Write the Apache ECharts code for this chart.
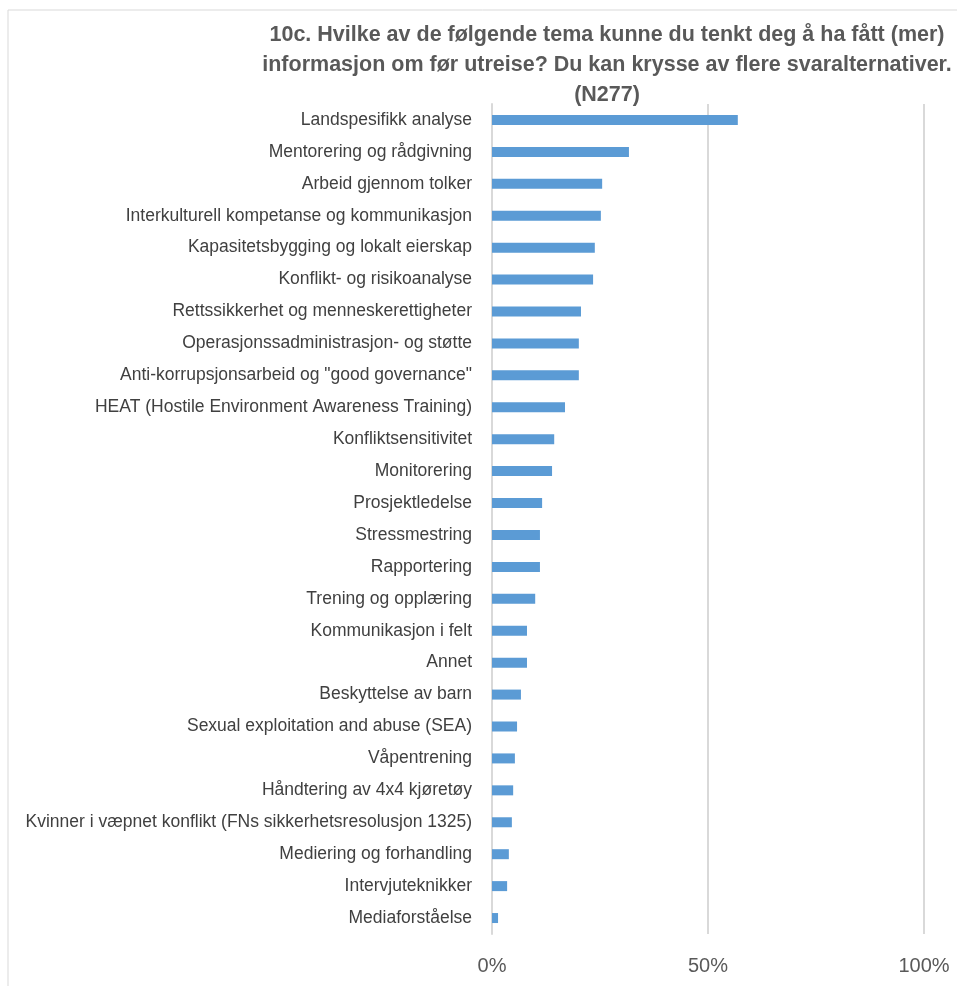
<!DOCTYPE html>
<html>
<head>
<meta charset="utf-8">
<script src="https://cdn.jsdelivr.net/npm/echarts@6/dist/echarts.min.js"></script>
<style>html,body{margin:0;padding:0;background:#fff}#c{width:957px;height:986px}</style>
</head>
<body>
<div id="c"></div>
<script>
const categories = [
  "Landspesifikk analyse",
  "Mentorering og rådgivning",
  "Arbeid gjennom tolker",
  "Interkulturell kompetanse og kommunikasjon",
  "Kapasitetsbygging og lokalt eierskap",
  "Konflikt- og risikoanalyse",
  "Rettssikkerhet og menneskerettigheter",
  "Operasjonssadministrasjon- og støtte",
  "Anti-korrupsjonsarbeid og \"good governance\"",
  "HEAT (Hostile Environment Awareness Training)",
  "Konfliktsensitivitet",
  "Monitorering",
  "Prosjektledelse",
  "Stressmestring",
  "Rapportering",
  "Trening og opplæring",
  "Kommunikasjon i felt",
  "Annet",
  "Beskyttelse av barn",
  "Sexual exploitation and abuse (SEA)",
  "Våpentrening",
  "Håndtering av 4x4 kjøretøy",
  "Kvinner i væpnet konflikt (FNs sikkerhetsresolusjon 1325)",
  "Mediering og forhandling",
  "Intervjuteknikker",
  "Mediaforståelse"
];
const values = [56.9, 31.7, 25.5, 25.2, 23.8, 23.4, 20.6, 20.1, 20.1, 16.9, 14.4, 13.9, 11.6, 11.1, 11.1, 10.0, 8.1, 8.1, 6.7, 5.8, 5.3, 4.9, 4.6, 3.9, 3.5, 1.4];
const xTicks = [0, 50, 100];
const titleText = "10c. Hvilke av de følgende tema kunne du tenkt deg å ha fått (mer)\ninformasjon om før utreise? Du kan krysse av flere svaralternativer.\n(N277)";

const chart = echarts.init(document.getElementById('c'), null, {renderer: 'canvas'});
chart.setOption({
  backgroundColor: '#ffffff',
  animation: false,
  title: {
    text: titleText,
    left: 602,
    top: 15,
    textAlign: 'center',
    textStyle: {
      fontFamily: 'Liberation Sans, Arial, sans-serif',
      fontSize: 21.5,
      fontWeight: 'bold',
      color: '#595959',
      lineHeight: 30
    }
  },
  graphic: [
    {type: 'line', shape: {x1: 8, y1: 10, x2: 8, y2: 986}, style: {stroke: '#d9d9d9', lineWidth: 1}},
    {type: 'line', shape: {x1: 8, y1: 10, x2: 957, y2: 10}, style: {stroke: '#d9d9d9', lineWidth: 1}}
  ],
  grid: {left: 492, right: 33, top: 104, bottom: 52, containLabel: false},
  xAxis: {
    type: 'value',
    min: xTicks[0],
    max: xTicks[xTicks.length - 1],
    interval: 50,
    axisLine: {show: false},
    axisTick: {show: false},
    splitLine: {show: true, lineStyle: {color: '#d9d9d9', width: 2}},
    axisLabel: {
      margin: 22,
      formatter: v => v + '%',
      fontFamily: 'Liberation Sans, Arial, sans-serif',
      fontSize: 20,
      color: '#595959'
    }
  },
  yAxis: {
    type: 'category',
    data: categories,
    inverse: true,
    axisLine: {show: true, lineStyle: {color: '#d9d9d9', width: 2}},
    axisTick: {show: false},
    axisLabel: {
      margin: 20,
      fontFamily: 'Liberation Sans, Arial, sans-serif',
      fontSize: 17.5,
      color: '#404040'
    }
  },
  series: [{
    type: 'bar',
    data: values,
    barWidth: 10,
    itemStyle: {color: '#5b9bd5'}
  }]
});
</script>
</body>
</html>
